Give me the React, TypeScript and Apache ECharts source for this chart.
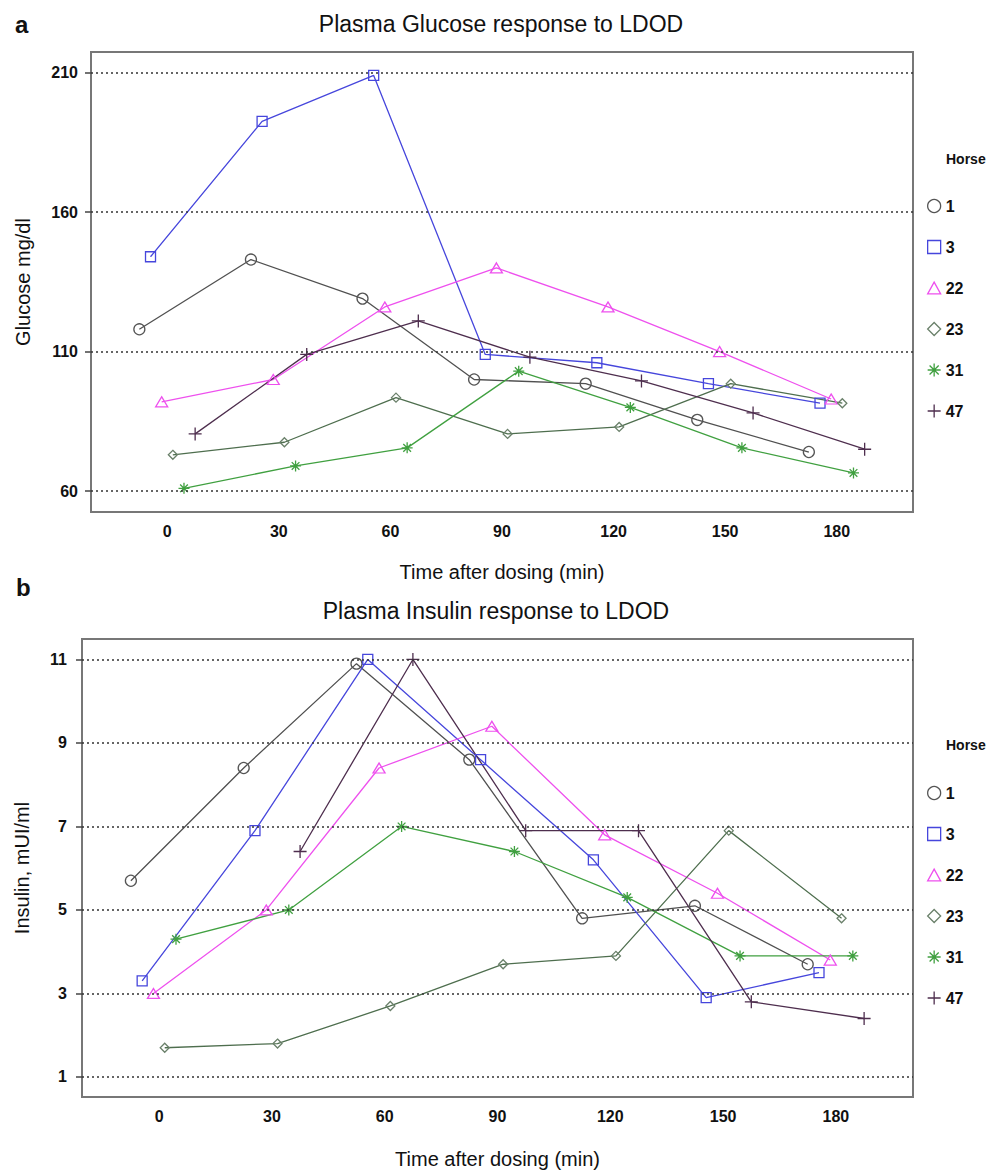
import React, { useEffect, useRef } from "react";
import * as echarts from "echarts";

const times = [0, 30, 60, 90, 120, 150, 180];
const horses = ["1", "3", "22", "23", "31", "47"];
const dodge = [-7.5, -4.5, -1.5, 1.5, 4.5, 7.5];

const glucoseH1 = [118, 143, 129, 100, 98.5, 85.5, 74];
const glucoseH3 = [144, 192.5, 209, 109, 106, 98.5, 91.5];
const glucoseH22 = [92, 100, 126, 140, 126, 110, 93];
const glucoseH23 = [73, 77.5, 93.5, 80.5, 83, 98.5, 91.5];
const glucoseH31 = [61, 69, 75.5, 103, 90, 75.5, 66.5];
const glucoseH47 = [80.5, 109, 121, 108, 99.5, 88, 75];

const insulinH1 = [5.7, 8.4, 10.9, 8.6, 4.8, 5.1, 3.7];
const insulinH3 = [3.3, 6.9, 11, 8.6, 6.2, 2.9, 3.5];
const insulinH22 = [3, 5, 8.4, 9.4, 6.8, 5.4, 3.8];
const insulinH23 = [1.7, 1.8, 2.7, 3.7, 3.9, 6.9, 4.8];
const insulinH31 = [4.3, 5, 7, 6.4, 5.3, 3.9, 3.9];
const insulinH47 = [null, 6.4, 11, 6.9, 6.9, 2.8, 2.4];

const glucoseTicks = [60, 110, 160, 210];
const insulinTicks = [1, 3, 5, 7, 9, 11];

const glucoseSeries = [glucoseH1, glucoseH3, glucoseH22, glucoseH23, glucoseH31, glucoseH47];
const insulinSeries = [insulinH1, insulinH3, insulinH22, insulinH23, insulinH31, insulinH47];

const FONT = "Liberation Sans, Arial, sans-serif";

const lineColors = ["#505050", "#4646dc", "#ee50ee", "#4e6e4e", "#40a040", "#4e2e4e"];
const markColors = ["#555555", "#4646dc", "#ee50ee", "#6a806a", "#40a040", "#4e2e4e"];
const symbols = [
  "circle",
  "rect",
  "path://M5,0L10,9L0,9Z",
  "path://M5,0L10,5L5,10L0,5Z",
  "path://M0,5L10,5M5,0L5,10M1.5,1.5L8.5,8.5M8.5,1.5L1.5,8.5",
  "path://M0,5L10,5M5,0L5,10",
];
const symbolSizes: any[] = [11, 10, [12, 10], 9, 11, 13];
const legendSizes: any[] = [13, 12, [14, 12], 12, 13, 14];

function buildSeries(values: (number | null)[][], idx: number) {
  return horses.map((h, i) => ({
    name: h,
    type: "line",
    xAxisIndex: idx,
    yAxisIndex: idx,
    data: values[i]
      .map((v, k) => (v === null ? null : [times[k] + dodge[i], v]))
      .filter((d) => d !== null),
    symbol: symbols[i],
    symbolSize: symbolSizes[i],
    showSymbol: true,
    showAllSymbol: true,
    lineStyle: { color: lineColors[i], width: 1.3 },
    itemStyle: { color: "rgba(0,0,0,0)", borderColor: markColors[i], borderWidth: 1.3 },
    z: 3,
  }));
}

function gridLines(ticks: number[], idx: number) {
  return {
    type: "line",
    name: "grid" + idx,
    xAxisIndex: idx,
    yAxisIndex: idx,
    data: [],
    silent: true,
    markLine: {
      silent: true,
      symbol: ["none", "none"],
      label: { show: false },
      lineStyle: { color: "#333", width: 1.5, type: [2, 3] },
      data: ticks.map((t) => ({ yAxis: t })),
    },
    z: 1,
  };
}

function legendFor(top: number) {
  return {
    orient: "vertical",
    left: 922,
    top,
    itemWidth: 13,
    itemHeight: 13,
    itemGap: 25,
    selectedMode: false,
    textStyle: { fontFamily: FONT, fontWeight: "bold", fontSize: 16, color: "#111" },
    data: horses.map((h, i) => ({
      name: h,
      icon: symbols[i],
      itemStyle: { color: "rgba(0,0,0,0)", borderColor: markColors[i], borderWidth: 1.3 },
    })),
  };
}

function xAxisFor(idx: number, nameGap: number) {
  return {
    type: "value",
    gridIndex: idx,
    min: -20.5,
    max: 200.5,
    axisLine: { show: false, onZero: false },
    axisTick: { show: false },
    splitLine: { show: false },
    axisLabel: {
      customValues: times,
      fontFamily: FONT,
      fontWeight: "bold",
      fontSize: 16,
      color: "#111",
      margin: 11,
    },
    name: "Time after dosing (min)",
    nameLocation: "middle",
    nameGap,
    nameTextStyle: { fontFamily: FONT, fontSize: 20, color: "#111" },
  };
}

function yAxisFor(idx: number, min: number, max: number, ticks: number[], name: string, margin: number, nameGap: number) {
  return {
    type: "value",
    gridIndex: idx,
    min,
    max,
    axisLine: { show: false, onZero: false },
    axisTick: { show: true, customValues: ticks, length: 6, lineStyle: { color: "#444", width: 1.5 } },
    splitLine: { show: false },
    axisLabel: {
      customValues: ticks,
      fontFamily: FONT,
      fontWeight: "bold",
      fontSize: 16,
      color: "#111",
      margin,
    },
    name,
    nameLocation: "middle",
    nameGap,
    nameTextStyle: { fontFamily: FONT, fontSize: 20, color: "#111" },
  };
}

export default function App() {
  const ref = useRef<HTMLDivElement>(null);
  useEffect(() => {
    if (!ref.current) return;
    const chart = echarts.init(ref.current, null, { renderer: "svg" });
    const option = {
      animation: false,
      backgroundColor: "#fff",
      grid: [
        { left: 91, top: 52, width: 822, height: 460, show: true, borderColor: "#777", borderWidth: 2, backgroundColor: "rgba(0,0,0,0)" },
        { left: 82, top: 639, width: 831, height: 459, show: true, borderColor: "#777", borderWidth: 2, backgroundColor: "rgba(0,0,0,0)" },
      ],
      xAxis: [xAxisFor(0, 50), xAxisFor(1, 52)],
      yAxis: [
        yAxisFor(0, 52.5, 217.4, glucoseTicks, "Glucose mg/dl", 13, 58),
        yAxisFor(1, 0.52, 11.49, insulinTicks, "Insulin, mUI/ml", 15, 50),
      ],
      legend: [legendFor(193), legendFor(780)],
      graphic: [
        { type: "text", x: 15, y: 12, style: { text: "a", font: `bold 24px ${FONT}`, fill: "#111" } },
        { type: "text", x: 16, y: 575, style: { text: "b", font: `bold 24px ${FONT}`, fill: "#111" } },
        { type: "text", x: 501, y: 12, style: { text: "Plasma Glucose response to LDOD", font: `23px ${FONT}`, fill: "#111", textAlign: "center" } },
        { type: "text", x: 496, y: 599, style: { text: "Plasma Insulin response to LDOD", font: `23px ${FONT}`, fill: "#111", textAlign: "center" } },
        { type: "text", x: 946, y: 152, style: { text: "Horse", font: `bold 14px ${FONT}`, fill: "#111" } },
        { type: "text", x: 946, y: 738, style: { text: "Horse", font: `bold 14px ${FONT}`, fill: "#111" } },
      ],
      series: [
        gridLines(glucoseTicks, 0),
        gridLines(insulinTicks, 1),
        ...buildSeries(glucoseSeries, 0),
        ...buildSeries(insulinSeries, 1),
      ],
    };
    chart.setOption(option as any);
    return () => chart.dispose();
  }, []);
  return (
    <div
      ref={ref}
      style={{ position: "absolute", left: 0, top: 0, width: 993, height: 1170 }}
    />
  );
}
